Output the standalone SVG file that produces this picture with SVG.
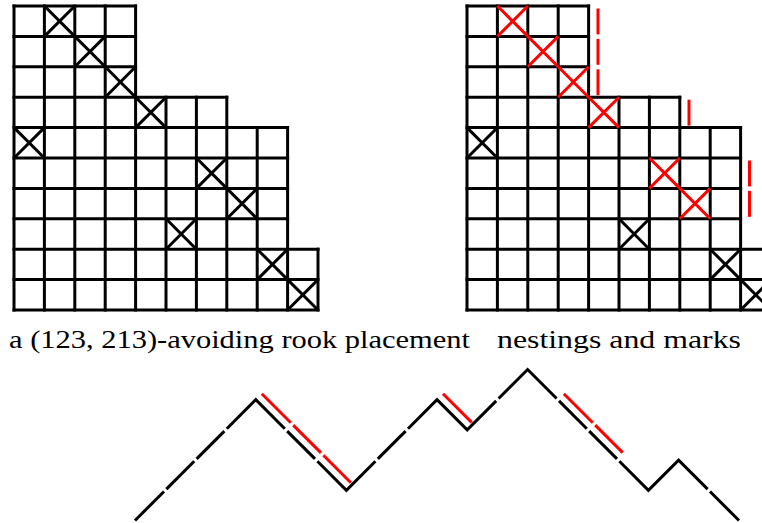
<svg xmlns="http://www.w3.org/2000/svg" xmlns:xlink="http://www.w3.org/1999/xlink" width="762" height="523" viewBox="0 0 762 523">
<style>
.bk{stroke:#000;stroke-width:3;fill:none}
.rd{stroke:#ff0000;stroke-width:3;fill:none}
.path path{stroke:#000;stroke-width:3;fill:none;stroke-linejoin:miter;stroke-linecap:butt}
.marks line{stroke:#ff0000;stroke-width:3;stroke-linecap:butt}
.lbl{font-family:"Liberation Serif","DejaVu Serif",serif;font-size:25px;fill:#000}
</style>
<defs>
<g id="x"><line x1="0" y1="0" x2="30.4" y2="30.4"/><line x1="0" y1="30.4" x2="30.4" y2="0"/></g>
<g id="grid" stroke="#000" stroke-width="3" stroke-linecap="square" fill="none">
<line x1="0" y1="0" x2="121.6" y2="0"/>
<line x1="0" y1="30.4" x2="121.6" y2="30.4"/>
<line x1="0" y1="60.8" x2="121.6" y2="60.8"/>
<line x1="0" y1="91.2" x2="212.8" y2="91.2"/>
<line x1="0" y1="121.6" x2="273.6" y2="121.6"/>
<line x1="0" y1="152" x2="273.6" y2="152"/>
<line x1="0" y1="182.4" x2="273.6" y2="182.4"/>
<line x1="0" y1="212.8" x2="273.6" y2="212.8"/>
<line x1="0" y1="243.2" x2="304" y2="243.2"/>
<line x1="0" y1="273.6" x2="304" y2="273.6"/>
<line x1="0" y1="304" x2="304" y2="304"/>
<line x1="0" y1="0" x2="0" y2="304"/>
<line x1="30.4" y1="0" x2="30.4" y2="304"/>
<line x1="60.8" y1="0" x2="60.8" y2="304"/>
<line x1="91.2" y1="0" x2="91.2" y2="304"/>
<line x1="121.6" y1="0" x2="121.6" y2="304"/>
<line x1="152" y1="91.2" x2="152" y2="304"/>
<line x1="182.4" y1="91.2" x2="182.4" y2="304"/>
<line x1="212.8" y1="91.2" x2="212.8" y2="304"/>
<line x1="243.2" y1="121.6" x2="243.2" y2="304"/>
<line x1="273.6" y1="121.6" x2="273.6" y2="304"/>
<line x1="304" y1="243.2" x2="304" y2="304"/>
</g>
</defs>

<g id="rook-placement">
<use xlink:href="#grid" x="14" y="6"/>
<g class="bk">
<use xlink:href="#x" x="44.4" y="6"/>
<use xlink:href="#x" x="74.8" y="36.4"/>
<use xlink:href="#x" x="105.2" y="66.8"/>
<use xlink:href="#x" x="135.6" y="97.2"/>
<use xlink:href="#x" x="14" y="127.6"/>
<use xlink:href="#x" x="196.4" y="158"/>
<use xlink:href="#x" x="226.8" y="188.4"/>
<use xlink:href="#x" x="166" y="218.8"/>
<use xlink:href="#x" x="257.2" y="249.2"/>
<use xlink:href="#x" x="287.6" y="279.6"/>
</g>
<text class="lbl" font-family="'Liberation Serif', 'DejaVu Serif', serif" x="9" y="348" textLength="461" lengthAdjust="spacingAndGlyphs">a (123, 213)-avoiding rook placement</text>
</g>

<g id="nestings-marks">
<use xlink:href="#grid" x="467" y="6"/>
<g class="bk">
<use xlink:href="#x" x="467" y="127.6"/>
<use xlink:href="#x" x="619" y="218.8"/>
<use xlink:href="#x" x="710.2" y="249.2"/>
<use xlink:href="#x" x="740.6" y="279.6"/>
</g>
<g class="rd">
<use xlink:href="#x" x="497.4" y="6"/>
<use xlink:href="#x" x="527.8" y="36.4"/>
<use xlink:href="#x" x="558.2" y="66.8"/>
<use xlink:href="#x" x="588.6" y="97.2"/>
<use xlink:href="#x" x="649.4" y="158"/>
<use xlink:href="#x" x="679.8" y="188.4"/>
</g>
<g class="marks">
<line x1="598" y1="8.5" x2="598" y2="34.4"/>
<line x1="598" y1="38.9" x2="598" y2="64.8"/>
<line x1="598" y1="69.3" x2="598" y2="95.2"/>
<line x1="689" y1="99.7" x2="689" y2="125.6"/>
<line x1="749.5" y1="160.5" x2="749.5" y2="186.4"/>
<line x1="749.5" y1="190.9" x2="749.5" y2="216.8"/>
</g>
<text class="lbl" font-family="'Liberation Serif', 'DejaVu Serif', serif" x="497" y="348" textLength="244" lengthAdjust="spacingAndGlyphs">nestings and marks</text>
</g>

<g id="connectors">
<g id="lattice-path" class="path">
<path d="M135,520.5 L164,491.5"/>
<path d="M166.4,489.1 L194.2,461.3"/>
<path d="M196.6,458.9 L224.4,431.1"/>
<path d="M226.8,428.7 L255.8,399.7 L284.8,428.7"/>
<path d="M287.2,431.1 L315,458.9"/>
<path d="M317.4,461.3 L346.4,490.3 L375.4,461.3"/>
<path d="M377.8,458.9 L405.6,431.1"/>
<path d="M408,428.7 L437,399.7 L467.2,429.9 L496.2,400.9"/>
<path d="M498.6,398.5 L527.6,369.5 L556.6,398.5"/>
<path d="M559,400.9 L586.8,428.7"/>
<path d="M589.2,431.1 L617,458.9"/>
<path d="M619.4,461.3 L648.4,490.3 L678.6,460.1 L707.6,489.1"/>
<path d="M710,491.5 L739,520.5"/>
</g>
<g id="path-marks" class="marks">
<line x1="261.8" y1="393.7" x2="290.8" y2="422.7"/>
<line x1="293.2" y1="425.1" x2="321" y2="452.9"/>
<line x1="323.4" y1="455.3" x2="350.9" y2="482.8"/>
<line x1="443" y1="393.7" x2="471.7" y2="422.4"/>
<line x1="563.8" y1="393.7" x2="592.8" y2="422.7"/>
<line x1="595.2" y1="425.1" x2="622.7" y2="452.6"/>
</g>
</g>
</svg>
